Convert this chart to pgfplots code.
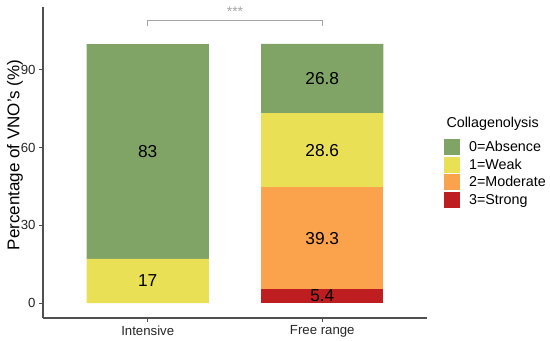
\documentclass[border=0pt]{standalone}
\usepackage{pgfplots}
\pgfplotsset{compat=1.18}
\usepackage{fontspec}
\setmainfont{Liberation Sans}
\definecolor{cgreen}{RGB}{127,164,101}
\definecolor{cyellow}{RGB}{234,224,85}
\definecolor{corange}{RGB}{251,162,76}
\definecolor{cred}{RGB}{190,30,32}
\definecolor{axgray}{RGB}{80,80,80}
\definecolor{brgray}{RGB}{165,165,165}
\tikzset{barlab/.style={font=\fontsize{17.3bp}{19bp}\selectfont}}
\begin{document}
\begin{tikzpicture}
\path[use as bounding box] (0,0) rectangle (550bp,341bp);
\begin{axis}[
  at={(43bp,23bp)}, anchor=south west,
  scale only axis, width=384bp, height=311bp,
  xmin=0.4, xmax=2.6, ymin=-5.79, ymax=114.3,
  axis lines*=left,
  axis line style={draw=axgray, line width=1.1bp},
  ytick={0,30,60,90},
  xtick={1,2}, xticklabels={Intensive,Free range},
  tick style={draw=axgray, line width=1bp},
  major tick length=4bp, tick align=outside,
  ybar stacked, bar width=0.7,
  clip=false,
  /pgf/number format/assume math mode=true,
  ticklabel style={font=\fontsize{13.2bp}{15bp}\selectfont, text=black!85},
  ylabel={Percentage of VNO's (\%)},
  every axis y label/.style={at={(axis description cs:-0.073,0.524)}, rotate=90, anchor=center, font=\fontsize{17bp}{19bp}\selectfont},
  reverse legend,
  legend style={at={(axis description cs:1.044,0.5765)}, anchor=north west, draw=none, fill=none,
     font=\fontsize{14.3bp}{16bp}\selectfont, row sep=1.7bp, inner sep=0pt,
     nodes={inner sep=0pt, anchor=west},
     /tikz/every odd column/.append style={column sep=9bp}},
  legend image code/.code={\fill[#1,draw=none] (0bp,-8bp) rectangle (16bp,8bp);},
  legend cell align=left,
]
\addplot[fill=cred, draw=none] coordinates {(1,0) (2,5.4)};
\addplot[fill=corange, draw=none] coordinates {(1,0) (2,39.3)};
\addplot[fill=cyellow, draw=none] coordinates {(1,17) (2,28.6)};
\addplot[fill=cgreen, draw=none] coordinates {(1,83) (2,26.8)};
\legend{3=Strong,2=Moderate,1=Weak,0=Absence}
\coordinate (L1) at (axis cs:1,8.5);
\coordinate (L2) at (axis cs:1,58.5);
\coordinate (L3) at (axis cs:2,2.7);
\coordinate (L4) at (axis cs:2,25.05);
\coordinate (L5) at (axis cs:2,59.0);
\coordinate (L6) at (axis cs:2,86.7);
\draw[brgray, line width=1bp] (axis cs:1,107) -- (axis cs:1,108.9) -- (axis cs:2,108.9) -- (axis cs:2,107);
\node[text=brgray, font=\fontsize{14bp}{15bp}\selectfont] at (axis cs:1.5,112.5) {***};
\end{axis}
\node[barlab] at (L1) {17};
\node[barlab] at (L2) {83};
\node[barlab] at (L3) {5.4};
\node[barlab] at (L4) {39.3};
\node[barlab] at (L5) {28.6};
\node[barlab] at (L6) {26.8};
\node[anchor=west, font=\fontsize{14.3bp}{16bp}\selectfont] at (443bp,217bp) {Collagenolysis};
\end{tikzpicture}
\end{document}
